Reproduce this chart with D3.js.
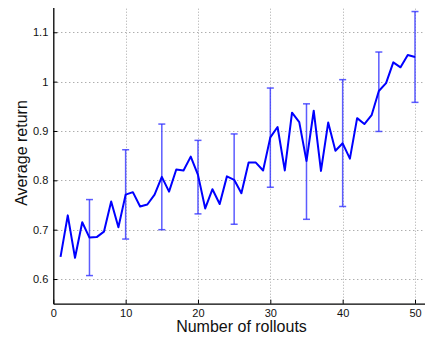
<!DOCTYPE html>
<html>
<head>
<meta charset="utf-8">
<script src="https://cdn.jsdelivr.net/npm/d3@7"></script>
<style>
  body { margin: 0; background: #fff; }
  svg { display: block; font-family: "Liberation Sans", Arial, sans-serif; }
</style>
</head>
<body>
<div class="chart"></div>
<script>
// rollouts 1..50 and the mean return after each
var rollouts = d3.range(1, 51);
var avgReturn = [
    0.645, 0.729, 0.643, 0.715, 0.684, 0.685, 0.696, 0.757, 0.705, 0.771,
    0.776, 0.747, 0.751, 0.771, 0.807, 0.777, 0.822, 0.820, 0.848, 0.811,
    0.743, 0.782, 0.752, 0.808, 0.801, 0.774, 0.836, 0.836, 0.820, 0.887,
    0.908, 0.820, 0.937, 0.918, 0.839, 0.941, 0.819, 0.917, 0.860, 0.875,
    0.844, 0.926, 0.914, 0.932, 0.981, 0.997, 1.039, 1.029, 1.054, 1.050
];

// error bars every 5 rollouts
var errX = [5, 10, 15, 20, 25, 30, 35, 40, 45, 50];
var errLow = [0.607, 0.681, 0.700, 0.732, 0.711, 0.786, 0.721, 0.747, 0.899, 0.958];
var errHigh = [0.761, 0.862, 0.914, 0.881, 0.894, 0.987, 0.955, 1.004, 1.060, 1.142];

var xTicks = [0, 10, 20, 30, 40, 50];
var yTicks = [0.6, 0.7, 0.8, 0.9, 1.0, 1.1];
var yTickLabels = ["0.6", "0.7", "0.8", "0.9", "1", "1.1"];

var width = 425,
    height = 337;
var margin = { left: 53.3, top: 7.6, bottom: 33 };

var x = d3.scaleLinear().domain([0, 52]).range([margin.left, margin.left + 52 * 7.234]);
var y = d3.scaleLinear().domain([0.55, 1.15]).range([height - margin.bottom - 0.3, margin.top]);

var svg = d3.select(".chart").append("svg")
    .attr("width", width)
    .attr("height", height);

// dotted grid
var grid = svg.append("g")
    .attr("stroke", "#8c8c8c")
    .attr("stroke-width", 1)
    .attr("stroke-dasharray", "1,3");

grid.selectAll("line.h")
    .data(yTicks)
    .join("line")
    .attr("class", "h")
    .attr("x1", x(0))
    .attr("x2", width)
    .attr("y1", d => Math.round(y(d)) + 0.5)
    .attr("y2", d => Math.round(y(d)) + 0.5);

grid.selectAll("line.v")
    .data(xTicks.slice(1))
    .join("line")
    .attr("class", "v")
    .attr("stroke-dasharray", "1,2")
    .attr("stroke", "#a8a8a8")
    .attr("x1", d => Math.round(x(d)) + 0.5)
    .attr("x2", d => Math.round(x(d)) + 0.5)
    .attr("y1", y(0.55))
    .attr("y2", y(1.15));

// error bars
var errData = errX.map((d, i) => ({ x: d, lo: errLow[i], hi: errHigh[i] }));
var err = svg.append("g")
    .attr("stroke", "#3333ff")
    .attr("stroke-opacity", 0.8)
    .attr("stroke-width", 1.5)
    .selectAll("g")
    .data(errData)
    .join("g");

err.append("line")
    .attr("x1", d => x(d.x)).attr("x2", d => x(d.x))
    .attr("y1", d => y(d.lo)).attr("y2", d => y(d.hi));
err.append("line")
    .attr("x1", d => x(d.x) - 3.5).attr("x2", d => x(d.x) + 3.5)
    .attr("y1", d => y(d.lo)).attr("y2", d => y(d.lo));
err.append("line")
    .attr("x1", d => x(d.x) - 3.5).attr("x2", d => x(d.x) + 3.5)
    .attr("y1", d => y(d.hi)).attr("y2", d => y(d.hi));

// mean return line
var line = d3.line()
    .x((d, i) => x(rollouts[i]))
    .y(d => y(d));

svg.append("path")
    .datum(avgReturn)
    .attr("fill", "none")
    .attr("stroke", "#0000ff")
    .attr("stroke-width", 2)
    .attr("stroke-linejoin", "round")
    .attr("d", line);

// axes, ticks point inward like matlab
var xAxis = svg.append("g")
    .attr("transform", `translate(0,${y(0.55)})`)
    .call(d3.axisBottom(x).tickValues(xTicks).tickSizeInner(-4).tickSizeOuter(0).tickPadding(6));

var yAxis = svg.append("g")
    .attr("transform", `translate(${x(0)},0)`)
    .call(d3.axisLeft(y).tickValues(yTicks).tickFormat((d, i) => yTickLabels[i])
        .tickSizeInner(-4).tickSizeOuter(0).tickPadding(5));

[xAxis, yAxis].forEach(a => {
    a.select(".domain").attr("stroke", "#000").attr("stroke-width", 1.3);
    a.selectAll(".tick line").attr("stroke", "#000");
    a.selectAll(".tick text")
        .attr("font-size", 11)
        .attr("font-family", "Liberation Sans, Arial, sans-serif")
        .attr("fill", "#111");
});

svg.append("text")
    .attr("x", 241.5)
    .attr("y", 332)
    .attr("text-anchor", "middle")
    .attr("font-size", 16)
    .attr("fill", "#111")
    .text("Number of rollouts");

svg.append("text")
    .attr("transform", "translate(26.5,153) rotate(-90)")
    .attr("text-anchor", "middle")
    .attr("font-size", 16)
    .attr("fill", "#111")
    .text("Average return");
</script>
</body>
</html>
